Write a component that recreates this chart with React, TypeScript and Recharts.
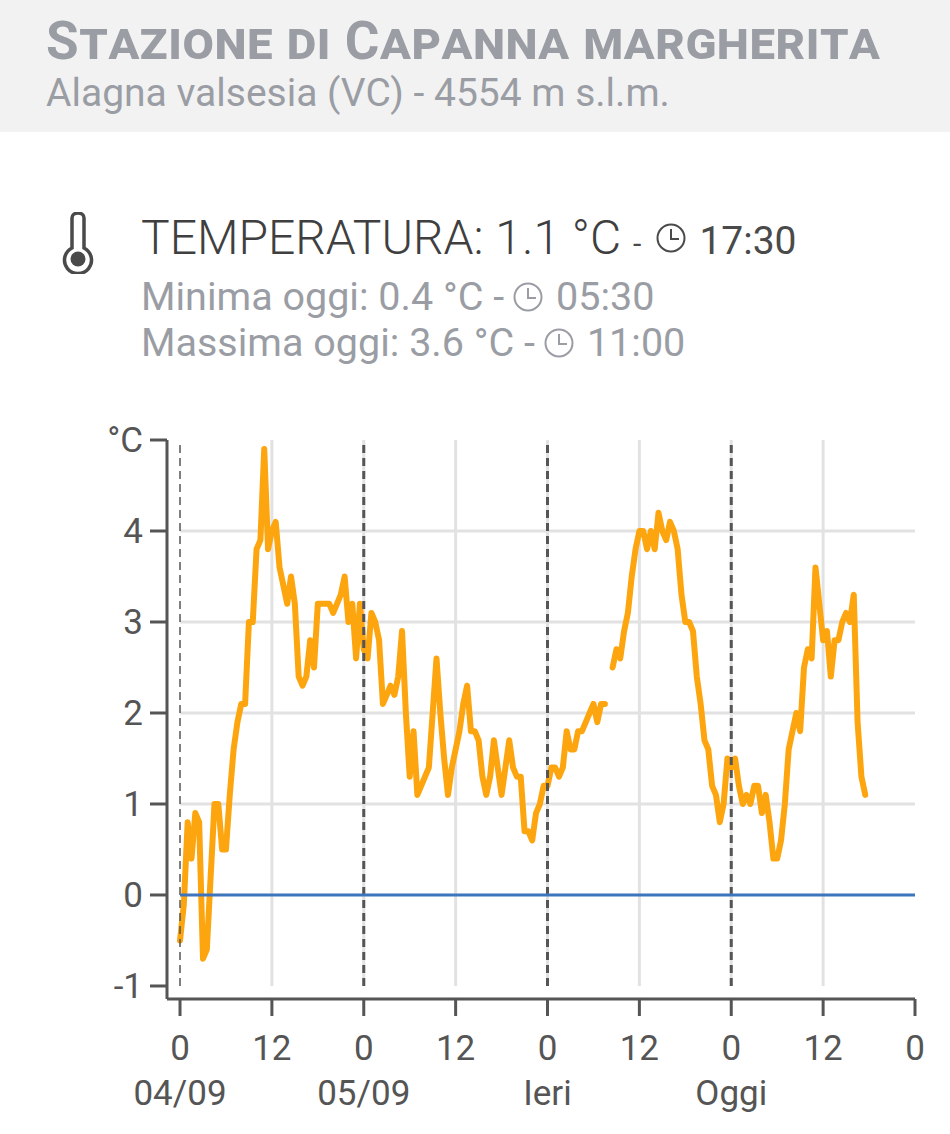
import {
  LineChart,
  Line,
  XAxis,
  YAxis,
  ReferenceLine,
} from "recharts";

// temperature every half hour, starting 04/09 00:00 (null = missing reading)
const temps: (number | null)[] = [
  -0.5, -0.1, 0.8, 0.4, 0.9, 0.8, -0.7, -0.6, 0.2, 1.0, 1.0, 0.5, 0.5, 1.1, 1.6, 1.9, 2.1, 2.1, 3.0, 3.0, 3.8, 3.9, 4.9, 3.8,
  4.0, 4.1, 3.6, 3.4, 3.2, 3.5, 3.2, 2.4, 2.3, 2.4, 2.8, 2.5, 3.2, 3.2, 3.2, 3.2, 3.1, 3.2, 3.3, 3.5, 3.0, 3.2, 2.6, 3.2,
  2.7, 2.6, 3.1, 3.0, 2.8, 2.1, 2.2, 2.3, 2.2, 2.4, 2.9, 2.0, 1.3, 1.8, 1.1, 1.2, 1.3, 1.4, 2.0, 2.6, 2.0, 1.5, 1.1, 1.4,
  1.6, 1.8, 2.1, 2.3, 1.8, 1.8, 1.7, 1.3, 1.1, 1.3, 1.7, 1.4, 1.1, 1.4, 1.7, 1.4, 1.3, 1.3, 0.7, 0.7, 0.6, 0.9, 1.0, 1.2,
  1.2, 1.4, 1.4, 1.3, 1.4, 1.8, 1.6, 1.6, 1.8, 1.8, 1.9, 2.0, 2.1, 1.9, 2.1, 2.1, null, 2.5, 2.7, 2.6, 2.9, 3.1, 3.5, 3.8,
  4.0, 4.0, 3.8, 4.0, 3.8, 4.2, 4.0, 3.9, 4.1, 4.0, 3.8, 3.3, 3.0, 3.0, 2.9, 2.4, 2.1, 1.7, 1.6, 1.2, 1.1, 0.8, 1.0, 1.5,
  1.4, 1.5, 1.2, 1.0, 1.1, 1.0, 1.2, 1.2, 0.9, 1.1, 0.8, 0.4, 0.4, 0.6, 1.0, 1.6, 1.8, 2.0, 1.8, 2.5, 2.7, 2.6, 3.6, 3.2,
  2.8, 2.9, 2.4, 2.8, 2.8, 3.0, 3.1, 3.0, 3.3, 1.9, 1.3, 1.1,
];
const hours = temps.map((_, i) => i / 2);
const data = temps.map((t, i) => ({ hour: hours[i], temp: t }));

const xTicks = [0, 12, 24, 36, 48, 60, 72, 84, 96];
const yTicks = [-1, 0, 1, 2, 3, 4, 5];
const gridY = [1, 2, 3, 4];
const gridX = [12, 36, 60, 84];
const dayStarts = [24, 48, 72];
const dayLabels: Record<number, string> = { 0: "04/09", 24: "05/09", 48: "Ieri", 72: "Oggi" };

const FONT = "Roboto, sans-serif";
const GREY = "#9a9da4";
const DARK = "#4a4a4a";

const XTick = ({ x, y, payload }: any) => (
  <g fontFamily={FONT} fontSize={35} fill="#555" textAnchor="middle">
    <text x={x} y={y + 42}>{payload.value % 24 === 0 ? 0 : 12}</text>
    <text x={x} y={y + 87}>{dayLabels[payload.value] ?? ""}</text>
  </g>
);

const Clock = ({ color, left = 9 }: { color: string; left?: number }) => (
  <svg width={30} height={30} viewBox="0 0 30 30" style={{ marginLeft: left, marginRight: 13, alignSelf: "center" }}>
    <circle cx="15" cy="15" r="13.5" fill="none" stroke={color} strokeWidth="2" />
    <path d="M15 6 V16 H23" fill="none" stroke={color} strokeWidth="2" />
  </svg>
);

const Row = ({ top, left, children }: any) => (
  <div
    style={{
      position: "absolute",
      top,
      left,
      display: "flex",
      alignItems: "baseline",
      whiteSpace: "pre",
      lineHeight: 1,
      fontFamily: FONT,
    }}
  >
    {children}
  </div>
);

export default function App() {
  return (
    <div style={{ position: "absolute", left: 0, top: 0, width: 950, height: 1134, background: "#fff", overflow: "hidden" }}>
      <div style={{ position: "absolute", left: 0, top: 0, width: 950, height: 132, background: "#f2f2f2" }} />
      <Row top={15} left={46}>
        <span style={{ fontSize: 53, fontWeight: 700, color: GREY, fontVariant: "small-caps", letterSpacing: 0.55 }}>
          Stazione di Capanna margherita
        </span>
      </Row>
      <Row top={74} left={46}>
        <span style={{ fontSize: 39, color: GREY }}>Alagna valsesia (VC) - 4554 m s.l.m.</span>
      </Row>

      <svg width={34} height={62} viewBox="0 0 34 62" style={{ position: "absolute", left: 61, top: 212 }}>
        <path
          d="M11 6 a6 5 0 0 1 12 0 V36 a13.5 13.5 0 1 1 -12 0 Z"
          fill="none"
          stroke={DARK}
          strokeWidth="3.5"
        />
        <circle cx="17" cy="47" r="7.5" fill={DARK} />
      </svg>

      <Row top={214} left={141}>
        <span style={{ fontSize: 48, fontWeight: 300, color: "#3f3f3f" }}>TEMPERATURA: 1.1 °C</span>
        <span style={{ fontSize: 30, color: DARK, marginLeft: 12 }}>-</span>
        <Clock color={DARK} left={15} />
        <span style={{ fontSize: 39, color: DARK }}>17:30</span>
      </Row>
      <Row top={277} left={141}>
        <span style={{ fontSize: 39.5, color: GREY }}>Minima oggi: 0.4 °C -</span>
        <Clock color={GREY} />
        <span style={{ fontSize: 39.5, color: GREY }}>05:30</span>
      </Row>
      <Row top={323} left={141}>
        <span style={{ fontSize: 39.5, color: GREY }}>Massima oggi: 3.6 °C -</span>
        <Clock color={GREY} />
        <span style={{ fontSize: 39.5, color: GREY }}>11:00</span>
      </Row>

      <div style={{ position: "absolute", left: 0, top: 0 }}>
        <LineChart
          width={950}
          height={1134}
          data={data}
          margin={{ top: 440, right: 35, bottom: 35, left: 107 }}
        >
          <XAxis
            dataKey="hour"
            type="number"
            domain={[-1.7, 96]}
            allowDataOverflow
            ticks={xTicks}
            interval={0}
            height={100}
            tickSize={17}
            stroke="#555"
            strokeWidth={3}
            tick={<XTick />}
          />
          <YAxis
            type="number"
            domain={[-1.143, 5]}
            allowDataOverflow
            ticks={yTicks}
            interval={0}
            width={60}
            tickSize={17}
            tickMargin={7}
            stroke="#555"
            strokeWidth={3}
            tick={{ fontFamily: FONT, fontSize: 35, fill: "#555" }}
            tickFormatter={(v: number) => (v === 5 ? "°C" : String(v))}
          />
          {gridY.map((v) => (
            <ReferenceLine key={"h" + v} segment={[{ x: 0, y: v }, { x: 96, y: v }]} stroke="#e2e2e2" strokeWidth={3} />
          ))}
          {gridX.concat(dayStarts).map((v) => (
            <ReferenceLine key={"v" + v} segment={[{ x: v, y: -1 }, { x: v, y: 5 }]} stroke="#e2e2e2" strokeWidth={3} />
          ))}
          <Line
            dataKey="temp"
            type="linear"
            stroke="#fda50f"
            strokeWidth={6}
            strokeLinejoin="round"
            strokeLinecap="round"
            dot={false}
            connectNulls={false}
            isAnimationActive={false}
          />
          <ReferenceLine segment={[{ x: 0, y: -1 }, { x: 0, y: 5 }]} stroke="#555" strokeWidth={1.5} strokeDasharray="8 5" />
          {dayStarts.map((v) => (
            <ReferenceLine key={"d" + v} segment={[{ x: v, y: -1 }, { x: v, y: 5 }]} stroke="#555" strokeWidth={3} strokeDasharray="8 5" />
          ))}
          <ReferenceLine segment={[{ x: 0, y: 0 }, { x: 96, y: 0 }]} stroke="#3d74bb" strokeWidth={3} />
        </LineChart>
      </div>
    </div>
  );
}
